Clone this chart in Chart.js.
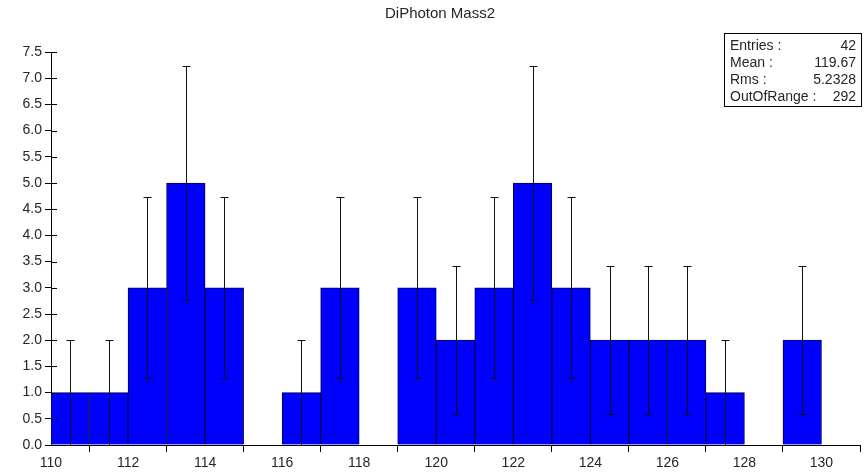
<!DOCTYPE html>
<html>
<head>
<meta charset="utf-8">
<script src="https://cdn.jsdelivr.net/npm/chart.js@4.4.1/dist/chart.umd.min.js"></script>
<style>
  html, body { margin: 0; padding: 0; background: #ffffff; }
  #wrap { width: 868px; height: 475px; position: relative; }
</style>
</head>
<body>
<div id="wrap"><canvas id="c" width="868" height="475"></canvas></div>
<script>
// ---- data ----
const chartTitle = "DiPhoton Mass2";
const binCenters = [110.5, 111.5, 112.5, 113.5, 114.5, 115.5, 116.5, 117.5, 118.5, 119.5,
                    120.5, 121.5, 122.5, 123.5, 124.5, 125.5, 126.5, 127.5, 128.5, 129.5];
const binCounts  = [1, 1, 3, 5, 3, 0, 1, 3, 0, 3,
                    2, 3, 5, 3, 2, 2, 2, 1, 0, 2];
const binErrors  = [1, 1, 1.73, 2.24, 1.73, 0, 1, 1.73, 0, 1.73,
                    1.41, 1.73, 2.24, 1.73, 1.41, 1.41, 1.41, 1, 0, 1.41];
const xTicks = [110, 112, 114, 116, 118, 120, 122, 124, 126, 128, 130];
const yTicks = [0, 0.5, 1, 1.5, 2, 2.5, 3, 3.5, 4, 4.5, 5, 5.5, 6, 6.5, 7, 7.5];
const statLabels = ["Entries :", "Mean :", "Rms :", "OutOfRange :"];
const statValues = ["42", "119.67", "5.2328", "292"];

const FONT = "'Liberation Sans', Arial, sans-serif";
const TEXT = "#262626";

const points = binCenters.map((x, i) => ({ x: x, y: binCounts[i] }));

const extrasPlugin = {
  id: 'extras',
  afterDatasetsDraw(chart) {
    const ctx = chart.ctx;
    const xs = chart.scales.x, ys = chart.scales.y;
    ctx.save();
    // error bars
    ctx.strokeStyle = '#111111';
    ctx.lineWidth = 1;
    const cap = 4;
    binCenters.forEach((c, i) => {
      const e = binErrors[i];
      if (!e) return;
      const px = Math.round(xs.getPixelForValue(c)) + 0.5;
      const yt = Math.round(ys.getPixelForValue(binCounts[i] + e)) + 0.5;
      const yb = Math.round(ys.getPixelForValue(Math.max(0, binCounts[i] - e))) + 0.5;
      ctx.beginPath();
      ctx.moveTo(px, yt); ctx.lineTo(px, yb);
      ctx.moveTo(px - cap, yt); ctx.lineTo(px + cap, yt);
      ctx.moveTo(px - cap, yb); ctx.lineTo(px + cap, yb);
      ctx.stroke();
    });
    // inner parts of y ticks
    ctx.strokeStyle = '#000000';
    const left = chart.chartArea.left;
    yTicks.forEach(v => {
      const py = Math.round(ys.getPixelForValue(v)) + 0.5;
      ctx.beginPath();
      ctx.moveTo(left, py); ctx.lineTo(left + 6, py);
      ctx.stroke();
    });
    ctx.restore();
  },
  afterDraw(chart) {
    const ctx = chart.ctx;
    ctx.save();
    // title
    ctx.fillStyle = TEXT;
    ctx.font = "15px " + FONT;
    ctx.textAlign = 'center';
    ctx.textBaseline = 'middle';
    ctx.fillText(chartTitle, 440, 14);
    // stats box
    ctx.fillStyle = '#ffffff';
    ctx.fillRect(724.5, 33.5, 137, 73);
    ctx.strokeStyle = '#000000';
    ctx.lineWidth = 1;
    ctx.strokeRect(724.5, 33.5, 137, 73);
    ctx.fillStyle = TEXT;
    ctx.font = "14px " + FONT;
    statLabels.forEach((lab, i) => {
      const y = 46 + i * 17;
      ctx.textAlign = 'left';
      ctx.fillText(lab, 730, y);
      ctx.textAlign = 'right';
      ctx.fillText(statValues[i], 856, y);
    });
    ctx.restore();
  }
};

new Chart(document.getElementById('c'), {
  type: 'bar',
  data: {
    datasets: [{
      data: points,
      backgroundColor: '#0000ff',
      borderColor: '#00004a',
      borderWidth: 1,
      borderSkipped: 'start',
      barPercentage: 1.0,
      categoryPercentage: 1.0
    }]
  },
  options: {
    responsive: false,
    animation: false,
    events: [],
    layout: { padding: { top: 52, right: 8, left: 0, bottom: 0 } },
    plugins: {
      legend: { display: false },
      title: { display: false },
      tooltip: { enabled: false }
    },
    scales: {
      x: {
        type: 'linear',
        min: 110,
        max: 131,
        offset: false,
        afterBuildTicks: s => { s.ticks = xTicks.map(v => ({ value: v })); },
        afterFit: s => { s.height = 30; },
        grid: { display: true, drawOnChartArea: false, drawTicks: true, tickLength: 7, color: '#000000', lineWidth: 1 },
        border: { display: true, color: '#000000', width: 1 },
        ticks: {
          padding: 3,
          color: TEXT,
          font: { family: FONT, size: 14 },
          maxRotation: 0,
          autoSkip: false,
          callback: v => String(v)
        }
      },
      y: {
        min: 0,
        max: 7.5,
        afterBuildTicks: s => { s.ticks = yTicks.map(v => ({ value: v })); },
        afterFit: s => { s.width = 51; },
        grid: { display: true, drawOnChartArea: false, drawTicks: true, tickLength: 6, color: '#000000', lineWidth: 1 },
        border: { display: true, color: '#000000', width: 1 },
        ticks: {
          padding: 3,
          color: TEXT,
          font: { family: FONT, size: 14 },
          autoSkip: false,
          callback: v => Number(v).toFixed(1)
        }
      }
    }
  },
  plugins: [extrasPlugin]
});
</script>
</body>
</html>
